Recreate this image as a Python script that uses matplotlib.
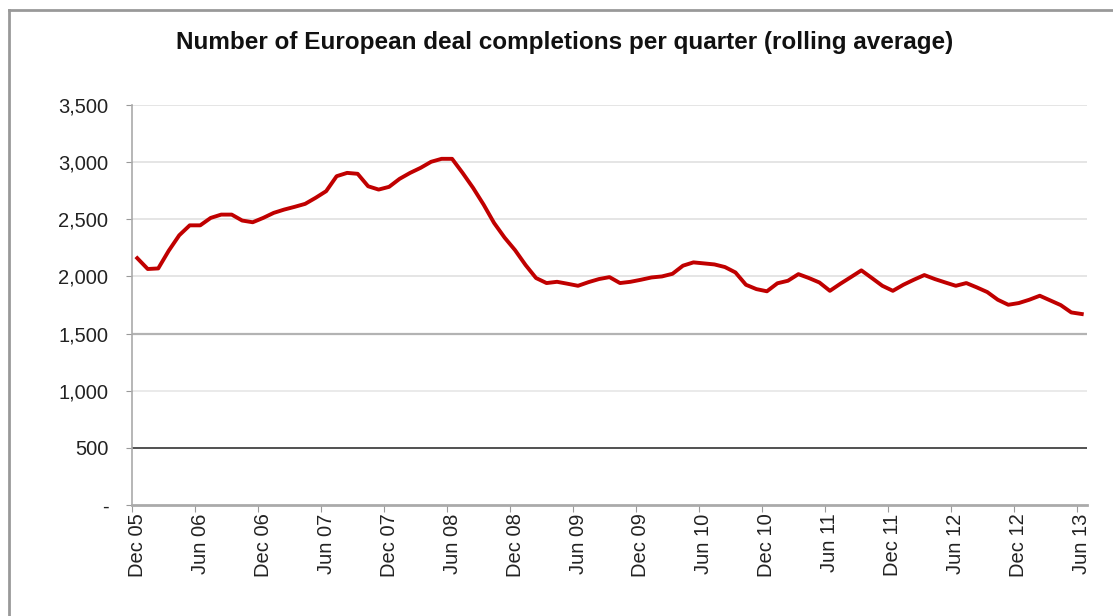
import numpy as np
import matplotlib.pyplot as plt
from matplotlib.lines import Line2D

# monthly rolling average, Dec 05 .. Jun 13
months = ['Dec 05', 'Jun 06', 'Dec 06', 'Jun 07', 'Dec 07', 'Jun 08', 'Dec 08', 'Jun 09',
          'Dec 09', 'Jun 10', 'Dec 10', 'Jun 11', 'Dec 11', 'Jun 12', 'Dec 12', 'Jun 13']

deals = [2160, 2065, 2070, 2225, 2360, 2447, 2447, 2512, 2541, 2541, 2489, 2474,   # Dec05-Nov06
         2512, 2556, 2585, 2609, 2635, 2688, 2746, 2877, 2906, 2898, 2789, 2760,   # Dec06-Nov07
         2784, 2854, 2906, 2950, 3003, 3029, 3029, 2906, 2775, 2629, 2468, 2340,   # Dec07-Nov08
         2230, 2100, 1986, 1942, 1953, 1936, 1918, 1950, 1977, 1994, 1942, 1953,   # Dec08-Nov09
         1971, 1991, 2000, 2023, 2094, 2123, 2114, 2105, 2082, 2035, 1927, 1889,   # Dec09-Nov10
         1870, 1940, 1962, 2020, 1986, 1947, 1874, 1936, 1994, 2053, 1986, 1918,   # Dec10-Nov11
         1874, 1927, 1971, 2012, 1977, 1947, 1918, 1942, 1904, 1863, 1796, 1752,   # Dec11-Nov12
         1767, 1796, 1831, 1790, 1749, 1685, 1671]                                 # Dec12-Jun13

y_ticks = [0, 500, 1000, 1500, 2000, 2500, 3000, 3500]
y_labels = ['-', '500', '1,000', '1,500', '2,000', '2,500', '3,000', '3,500']

plt.rcParams['font.family'] = ['Liberation Sans', 'DejaVu Sans']

fig = plt.figure(figsize=(11.13, 6.16), dpi=100)
ax = fig.add_axes([132 / 1113, 1 - 505 / 616, 955 / 1113, 400 / 616])

x = np.arange(len(deals))

# gridlines, each a bit different like the original export
grid_style = {500: ('#333333', 1.2), 1000: ('#e6e6e6', 1.2), 1500: ('#b3b3b3', 1.6),
              2000: ('#e0e0e0', 1.2), 2500: ('#e0e0e0', 1.2), 3000: ('#e0e0e0', 1.2),
              3500: ('#e0e0e0', 1.2)}
for v, (c, w) in grid_style.items():
    ax.axhline(v, color=c, lw=w, zorder=1)

ax.plot(x, deals, color='#c00000', lw=2.8, solid_joinstyle='round', zorder=3)

ax.set_xlim(-0.5, len(deals) - 0.5)
ax.set_ylim(0, 3500)

ax.set_yticks(y_ticks)
ax.set_yticklabels(y_labels, fontsize=14.5, color='#222222')
ax.tick_params(axis='y', length=4, width=0.8, color='#999999', pad=13)

ax.set_xticks(np.arange(0, len(deals), 6))
ax.set_xticklabels(months, rotation=90, fontsize=14.5, color='#222222')
ax.tick_params(axis='x', length=0, pad=6)
ax.set_xticks(np.arange(-0.5, len(deals), 6), minor=True)
ax.tick_params(axis='x', which='minor', length=5, width=0.8, color='#999999')

for s in ['top', 'right']:
    ax.spines[s].set_visible(False)
ax.spines['left'].set_color('#aaaaaa')
ax.spines['left'].set_linewidth(1.2)
ax.spines['bottom'].set_color('#aaaaaa')
ax.spines['bottom'].set_linewidth(2)

fig.text(565 / 1113, 1 - 42 / 616, 'Number of European deal completions per quarter (rolling average)',
         ha='center', va='center', fontsize=17.5, fontweight='bold', color='#111111')

# outer chart frame (top and left edges visible)
fig.add_artist(Line2D([9 / 1113, 1], [1 - 10 / 616] * 2, color='#999999', lw=2))
fig.add_artist(Line2D([9 / 1113] * 2, [0, 1 - 10 / 616], color='#999999', lw=2))

plt.savefig('out.png', dpi=100)
